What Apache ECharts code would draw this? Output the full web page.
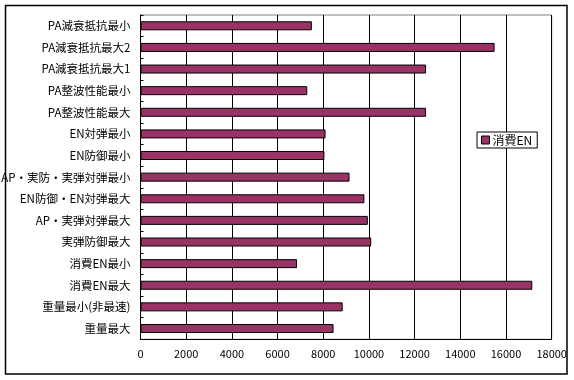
<!DOCTYPE html>
<html><head><meta charset="utf-8">
<script src="https://cdn.jsdelivr.net/npm/echarts@6/dist/echarts.min.js"></script>
<style>html,body{margin:0;padding:0;background:#fff}#c{width:574px;height:380px}</style>
</head><body><div id="c"></div>
<script>
const categories = ['PA減衰抵抗最小','PA減衰抵抗最大2','PA減衰抵抗最大1','PA整波性能最小','PA整波性能最大','EN対弾最小','EN防御最小','AP・実防・実弾対弾最小','EN防御・EN対弾最大','AP・実弾対弾最大','実弾防御最大','消費EN最小','消費EN最大','重量最小(非最速)','重量最大'];
const seriesName = '消費EN';
const values = [7500,15500,12500,7300,12500,8100,8050,9150,9800,9950,10100,6850,17150,8850,8450];
const xTicks = [0,2000,4000,6000,8000,10000,12000,14000,16000,18000];

const font = '"Noto Sans CJK JP", sans-serif';
const chart = echarts.init(document.getElementById('c'));
chart.setOption({
  animation:false,
  backgroundColor:'#fff',
  graphic:[{type:'rect',shape:{x:5.5,y:5.5,width:561.5,height:368.5},style:{fill:'none',stroke:'#000',lineWidth:1.5},silent:true}],
  legend:{show:true,orient:'vertical',left:477,top:132,padding:[2,5,2,4],itemWidth:8,itemHeight:8,itemGap:0,
    borderColor:'#000',borderWidth:1,backgroundColor:'#fff',
    textStyle:{fontFamily:font,fontSize:12,color:'#000',padding:[0,0,0,-2]},
    icon:'rect',
    itemStyle:{borderColor:'#000',borderWidth:1}},
  grid:{left:140.5,right:22.3,top:15,bottom:40.7,show:true,borderColor:'#808080',borderWidth:1,containLabel:false,outerBoundsMode:'none'},
  xAxis:{type:'value',min:xTicks[0],max:xTicks[xTicks.length-1],interval:2000,
    axisLine:{show:true,lineStyle:{color:'#000'}},axisTick:{show:false},
    axisLabel:{fontFamily:font,fontSize:11,color:'#000',margin:9,formatter:v=>xTicks.includes(v)?String(v):''},
    splitLine:{show:true,lineStyle:{color:'#000',width:1}}},
  yAxis:{type:'category',data:categories,inverse:true,
    axisLine:{show:true,lineStyle:{color:'#000'}},
    axisTick:{show:true,inside:true,length:3,lineStyle:{color:'#000'}},
    axisLabel:{fontFamily:font,fontSize:11.5,color:'#000',margin:10}},
  series:[{name:seriesName,type:'bar',data:values,barWidth:9,
    itemStyle:{color:'#993366',borderColor:'#000',borderWidth:1}}]
});
</script></body></html>
